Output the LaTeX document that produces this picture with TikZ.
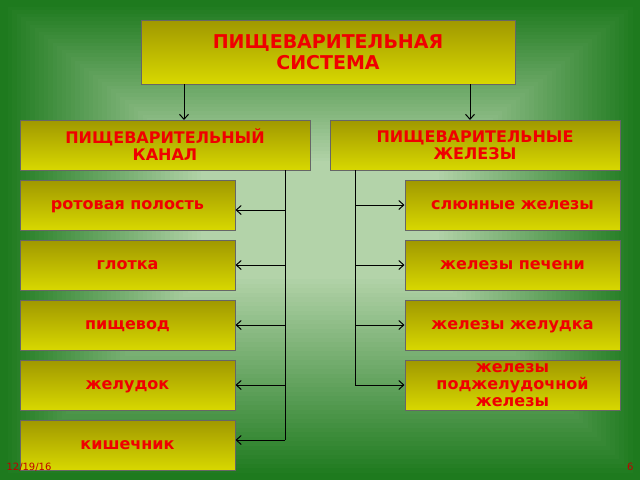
\documentclass[tikz,border=0pt]{standalone}
\usepackage{fontspec}
\setmainfont{DejaVu Sans}
\usetikzlibrary{arrows.meta}
\definecolor{boxtop}{HTML}{A09800}
\definecolor{boxbot}{HTML}{D8D800}
\definecolor{bgdark}{HTML}{1E7A1E}
\definecolor{bglight}{HTML}{D0E4C4}
\definecolor{txtred}{HTML}{F00000}
\tikzset{
  box/.style={draw=black!60,line width=1pt,top color=boxtop,bottom color=boxbot,
    text=txtred,font=\bfseries\fontsize{16}{17}\selectfont,align=center,inner sep=0pt,text depth=0pt},
  head/.style={box,font=\bfseries\fontsize{19}{21}\selectfont},
  link/.style={-{Straight Barb[length=5pt,width=9pt]},line width=1pt}
}
\begin{document}
\begin{tikzpicture}[x=1pt,y=-1pt]
    \useasboundingbox (0,0) rectangle (640,480);
    % background
    \fill[bgdark] (0,0) rectangle (640,480);
    \foreach \i in {0,...,44}{
      \pgfmathsetmacro{\mix}{\i*1.9}
      \fill[bglight!\mix!bgdark] (3+\i*4.5,3+\i*3.6) rectangle (637-\i*4.5,477-\i*4.5);
    }
    \node [head,minimum width=374,minimum height=64](sys)at(328,52){ПИЩЕВАРИТЕЛЬНАЯ\\СИСТЕМА};
    \node [box,minimum width=290,minimum height=50](kan)at(165,145){ПИЩЕВАРИТЕЛЬНЫЙ\\КАНАЛ};
    \node [box,minimum width=290,minimum height=50](zhel)at(475,145){ПИЩЕВАРИТЕЛЬНЫЕ\\ЖЕЛЕЗЫ};
    \node [box,minimum width=215,minimum height=50](l1)at(127.5,205){ротовая полость};
    \node [box,minimum width=215,minimum height=50](l2)at(127.5,265){глотка};
    \node [box,minimum width=215,minimum height=50](l3)at(127.5,325){пищевод};
    \node [box,minimum width=215,minimum height=50](l4)at(127.5,385){желудок};
    \node [box,minimum width=215,minimum height=50](l5)at(127.5,445){кишечник};
    \node [box,minimum width=215,minimum height=50](r1)at(512.5,205){слюнные железы};
    \node [box,minimum width=215,minimum height=50](r2)at(512.5,265){железы печени};
    \node [box,minimum width=215,minimum height=50](r3)at(512.5,325){железы желудка};
    \node [box,minimum width=215,minimum height=50](r4)at(512.5,385){железы\\поджелудочной\\железы};
    \node [text=txtred!80!black,font=\fontsize{10}{11}\selectfont,anchor=west](date)at(3,467){12/19/16};
    \node [text=txtred!80!black,font=\fontsize{10}{11}\selectfont,anchor=east](num)at(637,467){6};

    \coordinate (ltop)at(285,170);
    \coordinate (rtop)at(355,170);
    \coordinate (lbot)at(285,440);
    \coordinate (rbot)at(355,385);

    \draw [link](184,84)--(184,120);
    \draw [link](470,84)--(470,120);
    \draw [line width=1pt](ltop)--(lbot);
    \draw [line width=1pt](rtop)--(rbot);
    \draw [link](285,210)--(l1.east|-0,210);
    \foreach \n/\y in {l2/265,l3/325,l4/385,l5/440}
      \draw [link](285,\y)--(\n.east|-0,\y);
    \foreach \n/\y in {r1/205,r2/265,r3/325,r4/385}
      \draw [link](355,\y)--(\n.west|-0,\y);
\end{tikzpicture}
\end{document}
